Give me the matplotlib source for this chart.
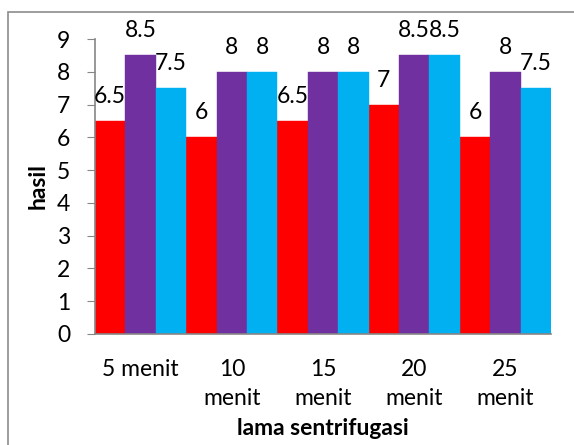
import matplotlib
matplotlib.use("Agg")
import matplotlib.pyplot as plt
import numpy as np
from matplotlib.patches import Rectangle

plt.rcParams['font.family'] = ['Lato', 'DejaVu Sans']

categories = ["5 menit", "10\nmenit", "15\nmenit", "20\nmenit", "25\nmenit"]
series_a = [6.5, 6, 6.5, 7, 6]
series_b = [8.5, 8, 8, 8.5, 8]
series_c = [7.5, 8, 8, 8.5, 7.5]
colors = ["#FF0000", "#7030A0", "#00B0F0"]

FS = 16.5
W, H = 574, 445
fig = plt.figure(figsize=(W/100, H/100), dpi=100)
fig.patches.append(Rectangle((8/W, -0.1), 1.2, 1 - 12/H + 0.1, transform=fig.transFigure,
                             fill=False, edgecolor="#8c8c8c", linewidth=1.2))
ax = fig.add_axes([95/W, 1 - 334/H, (551-95)/W, (334-39)/H])

x = np.arange(len(categories))
bw = 1/3
for i, (vals, c) in enumerate(zip([series_a, series_b, series_c], colors)):
    bars = ax.bar(x + (i - 1) * bw, vals, width=bw, color=c, edgecolor=c, linewidth=0.3)
    for b, v in zip(bars, vals):
        ax.annotate(f"{v:g}", (b.get_x() + b.get_width()/2, v), xytext=(0, 10),
                    textcoords="offset points", ha="center", va="bottom", fontsize=FS)

ax.set_xlim(-0.5, len(categories) - 0.5)
ax.set_ylim(0, 9)
ax.set_yticks(range(0, 10))
ax.set_xticks(x)
ax.set_xticklabels(categories, fontsize=FS, linespacing=1.45, va="top")
ax.tick_params(axis="x", length=0, pad=18)
ax.tick_params(axis="y", length=6, color="#868686", labelsize=FS, pad=12)
for s in ["top", "right"]:
    ax.spines[s].set_visible(False)
ax.spines["left"].set_color("#868686")
ax.spines["bottom"].set_color("#868686")
ax.spines["left"].set_linewidth(1.2)
ax.spines["bottom"].set_linewidth(1.2)

ax.set_ylabel("hasil", fontsize=FS, fontweight="bold", labelpad=6)
ax.set_xlabel("lama sentrifugasi", fontsize=FS, fontweight="bold", labelpad=7)

fig.savefig("out.png", dpi=100)
